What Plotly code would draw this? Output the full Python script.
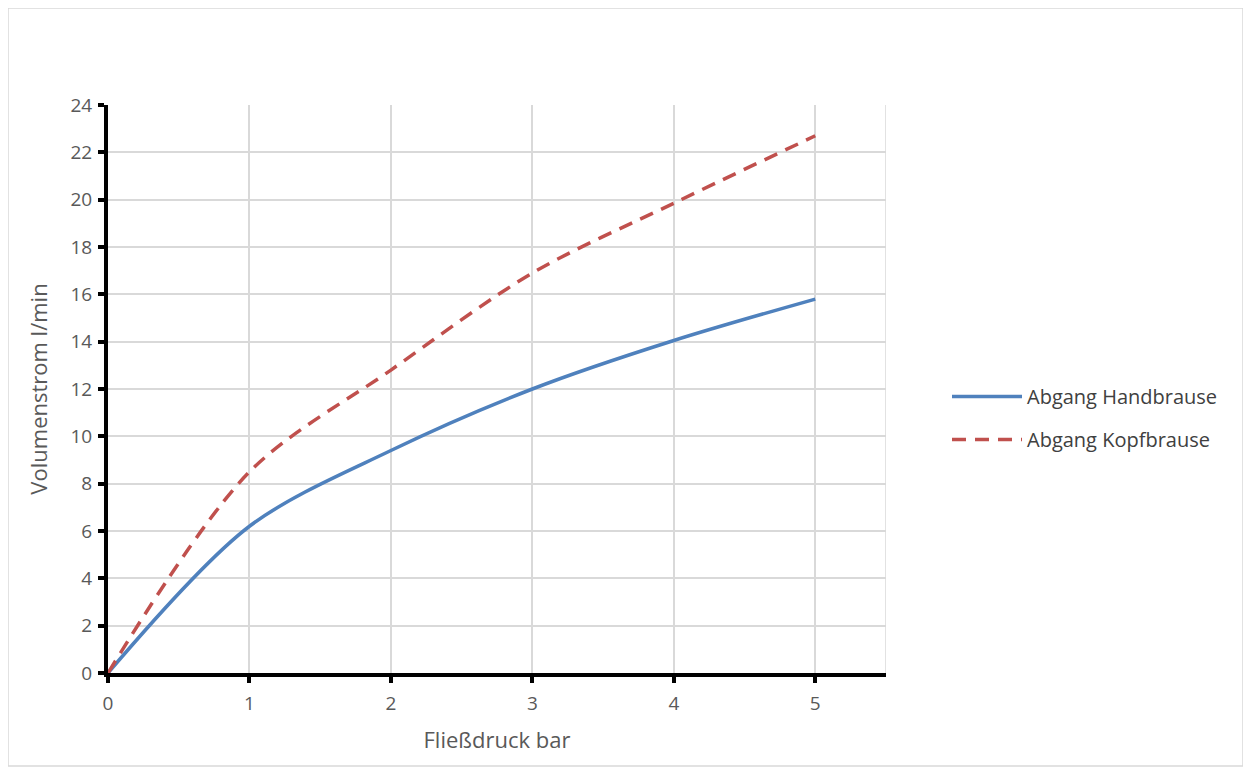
import plotly.graph_objects as go

pressure = [0, 1, 2, 3, 4, 5]
hand = [0, 6.2, 9.4, 12.0, 14.05, 15.8]
kopf = [0, 8.5, 12.8, 16.9, 19.85, 22.7]
name_hand = "Abgang Handbrause"
name_kopf = "Abgang Kopfbrause"

OFF = 8  # page body margin offset
W, H = 1251 - OFF, 774 - OFF
L, R, T, B = 108 - OFF, 886 - OFF, 105 - OFF, 673 - OFF

fig = go.Figure()
fig.add_trace(go.Scatter(x=pressure, y=hand, mode="lines", name=name_hand, legendgroup="a",
                         line=dict(color="#4f81bd", width=3.5, shape="spline", smoothing=0.9)))
fig.add_trace(go.Scatter(x=pressure, y=kopf, mode="lines", name=name_kopf, legendgroup="b",
                         line=dict(color="#c0504d", width=3.5, dash="14px,9px", shape="spline", smoothing=0.9)))

font_family = "Open Sans, Liberation Sans, sans-serif"
axis_common = dict(showline=True, linecolor="black", linewidth=4, ticks="outside",
                   ticklen=6, tickwidth=4, tickcolor="black",
                   showgrid=True, gridcolor="#d9d9d9", gridwidth=1.5, zeroline=False,
                   tickfont=dict(family=font_family, size=19, color="#595959"))

fig.update_layout(
    width=W, height=H,
    margin=dict(l=L, r=W - R, t=T, b=H - B),
    paper_bgcolor="white", plot_bgcolor="white",
    showlegend=True,
    legend=dict(x=(947 - OFF - L) / (R - L), y=(B - (377 - OFF)) / (B - T), xanchor="left", yanchor="top",
                font=dict(family=font_family, size=20, color="#404040"),
                tracegroupgap=14, itemwidth=70, bgcolor="rgba(0,0,0,0)"),
    xaxis=dict(range=[0, 5.5], tickvals=[0, 1, 2, 3, 4, 5], ticktext=["0", "1", "2", "3", "4", "5"],
               ticklabelstandoff=4,
               title=dict(text="Fließdruck bar", font=dict(family=font_family, size=22, color="#595959"),
                          standoff=19), **axis_common),
    yaxis=dict(range=[0, 24], dtick=2, ticklabelstandoff=2,
               title=dict(text="Volumenstrom l/min", font=dict(family=font_family, size=22, color="#595959"),
                          standoff=18), **axis_common),
)
fig.add_shape(type="line", xref="x", yref="y", x0=5.5, x1=5.5, y0=0, y1=24,
              line=dict(color="#d9d9d9", width=1.5), layer="below")
fig.add_shape(type="rect", xref="paper", yref="paper",
              x0=(8 - OFF - L) / (R - L), x1=(1243 - OFF - L) / (R - L),
              y0=(B - (766 - OFF)) / (B - T), y1=(B - (8 - OFF)) / (B - T),
              line=dict(color="#d9d9d9", width=1.5))

fig.write_html("out.html")
